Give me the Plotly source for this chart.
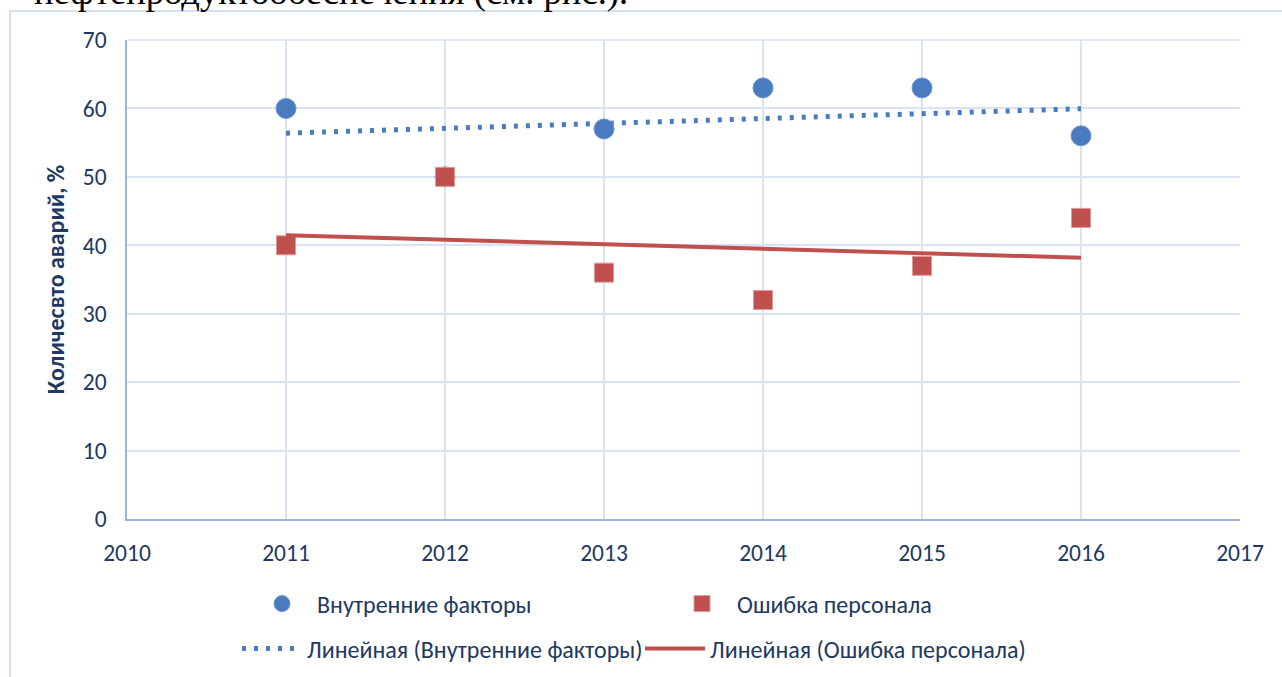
import numpy as np
import plotly.graph_objects as go

years = [2011, 2012, 2013, 2014, 2015, 2016]
internal_factors = [60, 50, 57, 63, 63, 56]
personnel_error = [40, 50, 36, 32, 37, 44]

name_internal = "Внутренние факторы"
name_personnel = "Ошибка персонала"
name_trend_internal = "Линейная (Внутренние факторы)"
name_trend_personnel = "Линейная (Ошибка персонала)"
y_title = "Количесвто аварий, %"
top_text = "нефтепродуктообеспечения (см. рис.)."

BLUE = "#4A7BC0"
RED = "#C0504D"
NAVY = "#203864"
GRID = "#D9E3F3"
AXIS = "#9BB5DE"
FONT = "Carlito, Calibri, Lato, sans-serif"

W, H = 1282, 677
L, R, T, B = 127, 42, 40, 158
pw, ph = W - L - R, H - T - B

x = np.array(years, dtype=float)
k1, b1 = np.polyfit(x, np.array(internal_factors, dtype=float), 1)
k2, b2 = np.polyfit(x, np.array(personnel_error, dtype=float), 1)
xt = np.array([years[0], years[-1]], dtype=float)

fig = go.Figure()
fig.add_trace(go.Scatter(
    x=xt, y=k1 * xt + b1, mode="lines", name=name_trend_internal,
    line=dict(color=BLUE, width=5, dash="4px,8px"), legend="legend2"))
fig.add_trace(go.Scatter(
    x=years, y=internal_factors, mode="markers", name=name_internal,
    marker=dict(symbol="circle", size=20, color=BLUE,
                line=dict(color="#6A95CF", width=1)), legend="legend"))
fig.add_trace(go.Scatter(
    x=years, y=personnel_error, mode="markers", name=name_personnel,
    marker=dict(symbol="square", size=19, color=RED,
                line=dict(color="#DE9A98", width=1)), legend="legend"))
fig.add_trace(go.Scatter(
    x=xt, y=k2 * xt + b2, mode="lines", name=name_trend_personnel,
    line=dict(color=RED, width=4), legend="legend2"))

def px_x(p):
    return (p - L) / pw

def px_y(p):
    return (H - B - p) / ph

fig.update_layout(
    width=W, height=H,
    margin=dict(l=L, r=R, t=T, b=B, autoexpand=False),
    paper_bgcolor="white", plot_bgcolor="white",
    font=dict(family=FONT, color=NAVY, size=23),
    xaxis=dict(range=[2010, 2017], dtick=1, tick0=2010, showgrid=True,
               gridcolor=GRID, gridwidth=1.5, zeroline=False,
               showline=True, linecolor=AXIS, linewidth=1.5, mirror=False,
               ticks="", ticklabelstandoff=12, automargin=False,
               tickfont=dict(size=23.5, color=NAVY, family=FONT)),
    yaxis=dict(range=[0, 70], dtick=10, showgrid=True, gridcolor=GRID,
               gridwidth=1.5, zeroline=False, showline=True, linecolor=AXIS,
               linewidth=1.5, ticks="", ticklabelstandoff=14, automargin=False,
               tickfont=dict(size=23.5, color=NAVY, family=FONT),
               title=dict(text=y_title, standoff=11,
                          font=dict(size=24, color=NAVY, family=FONT, weight="bold"))),
    legend=dict(orientation="h", x=px_x(247), xanchor="left",
                y=px_y(604), yanchor="middle", entrywidth=345, itemwidth=60,
                font=dict(size=24, color=NAVY, family=FONT),
                bgcolor="rgba(0,0,0,0)", traceorder="normal"),
    legend2=dict(orientation="h", x=px_x(237), xanchor="left",
                 y=px_y(649), yanchor="middle", entrywidth=328, itemwidth=60,
                 font=dict(size=24, color=NAVY, family=FONT),
                 bgcolor="rgba(0,0,0,0)", traceorder="normal"),
    showlegend=True,
)

# top border line of the plot area (same tone as the grid)
fig.add_shape(type="line", xref="paper", yref="paper", x0=0, x1=1, y0=1, y1=1,
              line=dict(color=GRID, width=1.5), layer="below")
# chart-area border (extends beyond the visible page to the right and bottom)
fig.add_shape(type="rect", xref="paper", yref="paper",
              x0=px_x(10), x1=px_x(1300), y0=px_y(11), y1=px_y(700),
              line=dict(color="#D5E0F1", width=2), fillcolor="rgba(0,0,0,0)",
              layer="below")

fig.add_annotation(text=top_text, xref="paper", yref="paper",
                   x=px_x(32), xanchor="left", y=px_y(14), yanchor="bottom",
                   showarrow=False,
                   font=dict(family="Liberation Serif, Times New Roman, serif",
                             size=36.6, color="black"))

fig.write_html("out.html",
               config={"displayModeBar": False},
               post_script="document.body.style.margin='0';"
                           "document.body.style.overflow='hidden';")
